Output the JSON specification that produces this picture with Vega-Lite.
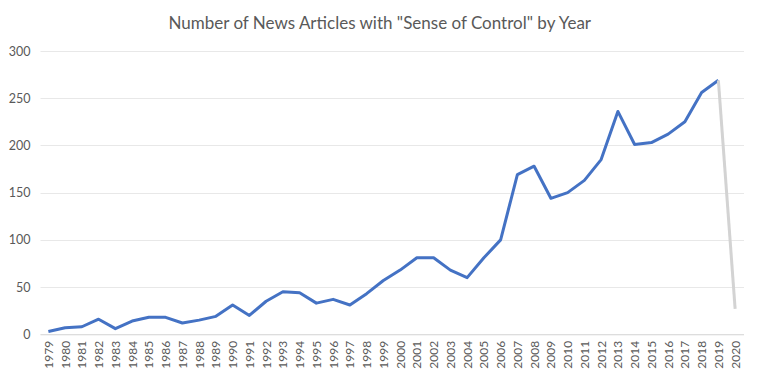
{
  "$schema": "https://vega.github.io/schema/vega-lite/v6.json",
  "width": 703.5,
  "height": 283.3,
  "autosize": {"type": "none"},
  "padding": {"left": 40, "top": 51, "right": 16.5, "bottom": 41.7},
  "background": "white",
  "title": {
    "text": "Number of News Articles with \"Sense of Control\" by Year",
    "font": "Lato",
    "fontSize": 17,
    "fontWeight": "normal",
    "color": "#595959",
    "anchor": "middle",
    "dx": -12,
    "offset": 12
  },
  "data": {
    "values": [
      {"year": "1979", "count": 3, "segment": "main"},
      {"year": "1980", "count": 7, "segment": "main"},
      {"year": "1981", "count": 8, "segment": "main"},
      {"year": "1982", "count": 16, "segment": "main"},
      {"year": "1983", "count": 6, "segment": "main"},
      {"year": "1984", "count": 14, "segment": "main"},
      {"year": "1985", "count": 18, "segment": "main"},
      {"year": "1986", "count": 18, "segment": "main"},
      {"year": "1987", "count": 12, "segment": "main"},
      {"year": "1988", "count": 15, "segment": "main"},
      {"year": "1989", "count": 19, "segment": "main"},
      {"year": "1990", "count": 31, "segment": "main"},
      {"year": "1991", "count": 20, "segment": "main"},
      {"year": "1992", "count": 35, "segment": "main"},
      {"year": "1993", "count": 45, "segment": "main"},
      {"year": "1994", "count": 44, "segment": "main"},
      {"year": "1995", "count": 33, "segment": "main"},
      {"year": "1996", "count": 37, "segment": "main"},
      {"year": "1997", "count": 31, "segment": "main"},
      {"year": "1998", "count": 43, "segment": "main"},
      {"year": "1999", "count": 57, "segment": "main"},
      {"year": "2000", "count": 68, "segment": "main"},
      {"year": "2001", "count": 81, "segment": "main"},
      {"year": "2002", "count": 81, "segment": "main"},
      {"year": "2003", "count": 68, "segment": "main"},
      {"year": "2004", "count": 60, "segment": "main"},
      {"year": "2005", "count": 81, "segment": "main"},
      {"year": "2006", "count": 100, "segment": "main"},
      {"year": "2007", "count": 169, "segment": "main"},
      {"year": "2008", "count": 178, "segment": "main"},
      {"year": "2009", "count": 144, "segment": "main"},
      {"year": "2010", "count": 150, "segment": "main"},
      {"year": "2011", "count": 163, "segment": "main"},
      {"year": "2012", "count": 185, "segment": "main"},
      {"year": "2013", "count": 236, "segment": "main"},
      {"year": "2014", "count": 201, "segment": "main"},
      {"year": "2015", "count": 203, "segment": "main"},
      {"year": "2016", "count": 212, "segment": "main"},
      {"year": "2017", "count": 225, "segment": "main"},
      {"year": "2018", "count": 256, "segment": "main"},
      {"year": "2019", "count": 269, "segment": "main"},
      {"year": "2019", "count": 269, "segment": "partial"},
      {"year": "2020", "count": 27, "segment": "partial"}
    ]
  },
  "mark": {"type": "line", "strokeWidth": 3, "strokeJoin": "round", "strokeCap": "butt"},
  "encoding": {
    "x": {
      "field": "year",
      "type": "ordinal",
      "scale": {"padding": 0.5},
      "axis": {
        "title": null,
        "labelAngle": -90,
        "labelFont": "Lato",
        "labelFontSize": 12,
        "labelColor": "#595959",
        "labelPadding": 6,
        "ticks": false,
        "domainColor": "#d9d9d9",
        "domainWidth": 1,
        "grid": false
      }
    },
    "y": {
      "field": "count",
      "type": "quantitative",
      "scale": {"domain": [0, 300], "nice": false},
      "axis": {
        "title": null,
        "values": [0, 50, 100, 150, 200, 250, 300],
        "labelFont": "Lato",
        "labelFontSize": 12.5,
        "labelColor": "#595959",
        "labelPadding": 10,
        "ticks": false,
        "domain": false,
        "gridColor": "#e8e8e8",
        "gridWidth": 1
      }
    },
    "color": {
      "field": "segment",
      "type": "nominal",
      "scale": {"domain": ["main", "partial"], "range": ["#4472c4", "#d3d3d3"]},
      "legend": null
    }
  },
  "config": {"view": {"stroke": null}}
}
